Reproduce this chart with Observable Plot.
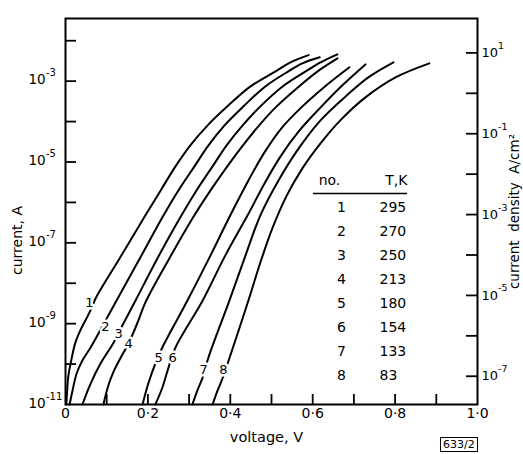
<!DOCTYPE html>
<html><head><meta charset="utf-8">
<script src="https://cdn.jsdelivr.net/npm/d3@7"></script>
<script src="https://cdn.jsdelivr.net/npm/@observablehq/plot@0.6"></script>
<style>
body{margin:0;background:#fff;}
#wrap{position:relative;width:523px;height:454px;overflow:hidden;}
#fig{position:absolute;left:440px;top:437px;border:1px solid #000;font:11px "DejaVu Sans",sans-serif;padding:0 2px;line-height:13px;color:#000;}
</style></head><body><div id="wrap"></div>
<script>
// curve numbers and temperatures
const curveNo = [1, 2, 3, 4, 5, 6, 7, 8];
const temperatureK = [295, 270, 250, 213, 180, 154, 133, 83];

// voltage (V) and current (A)
const v1 = [0.002,0.004,0.007,0.015,0.024,0.036,0.051,0.066,0.073,0.133,0.194,0.231,0.267,0.303,0.345,0.393,0.449,0.510,0.546,0.590];
const i1 = [1.0e-11,2.2e-11,5.2e-11,1.4e-10,3.4e-10,6.8e-10,1.35e-9,2.8e-9,4.2e-9,4.4e-8,4.8e-7,1.98e-6,7.8e-6,2.58e-5,8.05e-5,2.38e-4,7.4e-4,1.75e-3,2.92e-3,4.4e-3];
const v2 = [0.010,0.017,0.027,0.041,0.061,0.080,0.100,0.124,0.182,0.238,0.274,0.313,0.347,0.386,0.432,0.485,0.541,0.575,0.617];
const i2 = [1.0e-11,2.2e-11,5.85e-11,1.23e-10,2.58e-10,5.7e-10,1.35e-9,3.75e-9,4.4e-8,4.8e-7,1.98e-6,7.8e-6,2.58e-5,8.05e-5,2.38e-4,7.4e-4,1.75e-3,2.76e-3,3.9e-3];
const v3 = [0.041,0.061,0.085,0.117,0.138,0.170,0.223,0.277,0.318,0.357,0.391,0.430,0.473,0.527,0.583,0.619,0.660];
const i3 = [1.0e-11,3.3e-11,1.03e-10,3.43e-10,9.0e-10,3.75e-9,4.1e-8,4.0e-7,1.98e-6,7.8e-6,2.58e-5,8.05e-5,2.38e-4,7.4e-4,1.75e-3,2.92e-3,4.6e-3];
const v4 = [0.092,0.104,0.117,0.133,0.153,0.175,0.194,0.252,0.308,0.352,0.391,0.427,0.466,0.510,0.561,0.612,0.660];
const i4 = [1.0e-11,2.95e-11,6.6e-11,1.38e-10,3.24e-10,1.07e-9,3.35e-9,4.1e-8,4.0e-7,1.98e-6,7.35e-6,2.3e-5,7.2e-5,2.24e-4,6.6e-4,1.75e-3,3.66e-3];
const v5 = [0.187,0.201,0.218,0.235,0.296,0.352,0.400,0.444,0.483,0.524,0.570,0.624,0.689];
const i5 = [1.0e-11,3.3e-11,1.03e-10,2.58e-10,3.75e-9,4.9e-8,4.8e-7,3.5e-6,1.73e-5,6.8e-5,2.12e-4,6.6e-4,2.2e-3];
const v6 = [0.218,0.235,0.250,0.267,0.333,0.388,0.442,0.483,0.522,0.566,0.617,0.672,0.728];
const i6 = [1.0e-11,2.6e-11,8.2e-11,2.58e-10,3.75e-9,4.9e-8,4.8e-7,2.95e-6,1.38e-5,5.7e-5,2.12e-4,7.9e-4,2.6e-3];
const v7 = [0.308,0.320,0.333,0.347,0.398,0.437,0.473,0.517,0.566,0.619,0.680,0.735,0.796];
const i7 = [1.0e-11,2.2e-11,4.7e-11,1.46e-10,3.75e-9,4.9e-8,4.8e-7,3.5e-6,2.17e-5,1.07e-4,4.2e-4,1.24e-3,2.92e-3];
const v8 = [0.357,0.369,0.381,0.396,0.444,0.473,0.502,0.536,0.575,0.619,0.667,0.728,0.801,0.883];
const i8 = [1.0e-11,2.2e-11,4.4e-11,1.23e-10,3.75e-9,3.27e-8,2.27e-7,1.41e-6,6.95e-6,2.88e-5,1.07e-4,3.97e-4,1.24e-3,2.76e-3];

// curve number labels (voltage, current)
const labelV = [0.058,0.097,0.129,0.153,0.226,0.260,0.335,0.383];
const labelI = [3.35e-9,8.5e-10,5.7e-10,3.24e-10,1.46e-10,1.46e-10,7.3e-11,7.3e-11];

// ticks
const xTicks = [0.1,0.2,0.3,0.4,0.5,0.6,0.7,0.8,0.9];
const xLabels = [0,0.2,0.4,0.6,0.8,1.0];
const leftTickExp = [-2,-3,-4,-5,-6,-7,-8,-9,-10];
const leftLabelExp = [-3,-5,-7,-9,-11];
const rightTickExp = [1,0,-1,-2,-3,-4,-5,-6,-7];
const rightLabelExp = [1,-1,-3,-5,-7];
const deviceArea = 5.0e-4; // cm², J = I / area

const W = 523, H = 454, mL = 65, mR = 46, mT = 18, mB = 50;
const pw = W - mL - mR, ph = H - mT - mB;
const yTop = -1.45;
// layout helpers: pixel position -> scale value (for text placed in the margins / legend)
const xAt = p => (p - mL) / pw;
const yAt = p => 10 ** (yTop - (p - mT) / ph * (yTop + 11));

const vs = [v1,v2,v3,v4,v5,v6,v7,v8], is = [i1,i2,i3,i4,i5,i6,i7,i8];
const series = [];
vs.forEach((v, k) => v.forEach((x, j) => series.push({no: curveNo[k], V: x, I: is[k][j]})));
const labels = curveNo.map((n, k) => ({no: n, V: labelV[k], I: labelI[k]}));
const rows = curveNo.map((n, k) => ({no: n, T: temperatureK[k], y: yAt(207 + 24 * k)}));

const font = "DejaVu Sans";
const fmtX = d => d === 0 ? "0" : d.toFixed(1).replace(".", "\u00B7");
const blk = {fill: "black"};

const chart = Plot.plot({
  width: W, height: H,
  marginLeft: mL, marginRight: mR, marginTop: mT, marginBottom: mB,
  x: {domain: [0, 1], axis: null},
  y: {type: "log", domain: [1e-11, 10 ** yTop], axis: null},
  style: {fontFamily: font, background: "white", color: "black", overflow: "visible"},
  marks: [
    Plot.frame({stroke: "black", strokeWidth: 2}),
    Plot.ruleY(leftTickExp, {y: e => 10 ** e, insetRight: pw - 11, strokeWidth: 1.8}),
    Plot.ruleY(rightTickExp, {y: e => 10 ** e * deviceArea, insetLeft: pw - 11, strokeWidth: 1.8}),
    Plot.ruleX(xTicks, {insetTop: ph - 10, strokeWidth: 1.8}),
    Plot.line(series, {x: "V", y: "I", z: "no", curve: "catmull-rom", stroke: "black", strokeWidth: 2}),
    Plot.text(labels, {x: "V", y: "I", text: d => String(d.no), fontSize: 13, fill: "black", stroke: "white", strokeWidth: 5}),
    // left tick labels
    Plot.text(leftLabelExp, {x: () => xAt(28), y: e => 10 ** e, dy: -1, textAnchor: "start", text: () => "10", fontSize: 13.5, ...blk}),
    Plot.text(leftLabelExp, {x: () => xAt(45.5), y: e => 10 ** e, dy: -8, textAnchor: "start", text: e => String(e), fontSize: 10, ...blk}),
    // right tick labels
    Plot.text(rightLabelExp, {x: () => xAt(481), y: e => 10 ** e * deviceArea, textAnchor: "start", text: () => "10", fontSize: 13, ...blk}),
    Plot.text(rightLabelExp, {x: () => xAt(497.5), y: e => 10 ** e * deviceArea, dy: -7, textAnchor: "start", text: e => String(e), fontSize: 9.5, ...blk}),
    // x tick labels
    Plot.text(xLabels, {x: d => d, frameAnchor: "bottom", dy: 13, text: fmtX, fontSize: 14, ...blk}),
    // axis titles
    Plot.text(["voltage, V"], {x: () => xAt(266), y: () => yAt(437), fontSize: 14.5, ...blk}),
    Plot.text(["current, A"], {x: () => xAt(17.5), y: () => yAt(240), rotate: -90, fontSize: 14, ...blk}),
    Plot.text(["current  density  A/cm\u00B2"], {x: () => xAt(514.5), y: () => yAt(211), rotate: -90, fontSize: 13.5, ...blk}),
    // legend table
    Plot.text(["no."], {x: () => xAt(329), y: () => yAt(180), fontSize: 14, ...blk}),
    Plot.text(["T,K"], {x: () => xAt(407), y: () => yAt(180), textAnchor: "end", fontSize: 14, ...blk}),
    Plot.ruleY([yAt(193)], {insetLeft: 313 - mL, insetRight: W - mR - 407, strokeWidth: 1.3}),
    Plot.text(rows, {x: () => xAt(341), y: "y", text: d => String(d.no), fontSize: 14, ...blk}),
    Plot.text(rows, {x: () => xAt(379), y: "y", textAnchor: "start", text: d => String(d.T), fontSize: 14, ...blk})
  ]
});
const wrap = document.getElementById("wrap");
wrap.appendChild(chart);
const fig = document.createElement("div");
fig.id = "fig";
fig.textContent = "633/2";
wrap.appendChild(fig);
</script>
</body></html>
